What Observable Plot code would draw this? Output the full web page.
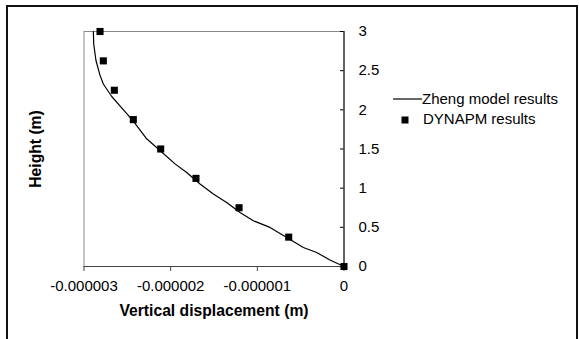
<!DOCTYPE html>
<html><head><meta charset="utf-8">
<script src="https://cdn.jsdelivr.net/npm/d3@7"></script>
<script src="https://cdn.jsdelivr.net/npm/@observablehq/plot@0.6"></script>
<style>
body{margin:0;background:#fff;font-family:"Liberation Sans",Arial,sans-serif;}
#wrap{position:relative;width:579px;height:339px;overflow:hidden;background:#fff;}
#border{position:absolute;left:6px;top:5px;width:568px;height:400px;border:2px solid #111;}
#chart{position:absolute;left:0;top:0;}
.lg{position:absolute;font-size:15px;line-height:17px;color:#000;white-space:nowrap;}
#ytitle{position:absolute;left:35.5px;top:148.5px;transform:translate(-50%,-50%) rotate(-90deg);font-weight:bold;font-size:15.7px;line-height:18px;white-space:nowrap;color:#000;}
</style></head><body>
<div id="wrap"><div id="border"></div><div id="chart"></div><div id="legend"></div><div id="ytitle"></div></div>
<script>
// DYNAPM results (squares)
const dynapmHeight = [0, 0.375, 0.75, 1.125, 1.5, 1.875, 2.25, 2.625, 3.0];
const dynapmDisp = [0, -0.638e-6, -1.211e-6, -1.708e-6, -2.115e-6, -2.431e-6, -2.650e-6, -2.777e-6, -2.815e-6];
// Zheng model results (line)
const modelHeight = [0, 0.082, 0.179, 0.243, 0.371, 0.499, 0.584, 0.69, 0.818, 0.926, 1.054, 1.20, 1.31, 1.48, 1.63, 1.855, 2.025, 2.17, 2.33, 2.44, 2.63, 2.84, 3.0];
const modelDisp = [0, -0.162e-6, -0.315e-6, -0.469e-6, -0.661e-6, -0.854e-6, -1.046e-6, -1.2e-6, -1.354e-6, -1.508e-6, -1.661e-6, -1.815e-6, -1.95e-6, -2.123e-6, -2.277e-6, -2.431e-6, -2.565e-6, -2.68e-6, -2.777e-6, -2.815e-6, -2.862e-6, -2.888e-6, -2.892e-6];
const xTicks = [-3e-6, -2e-6, -1e-6, 0];
const yTicks = [0, 0.5, 1, 1.5, 2, 2.5, 3];
const seriesNames = ["Zheng model results", "DYNAPM results"];
const xTitle = "Vertical displacement (m)";
const yTitle = "Height (m)";

const dynapm = dynapmHeight.map((h, i) => ({h, d: dynapmDisp[i]}));
const model = modelHeight.map((h, i) => ({h, d: modelDisp[i]}));

const W = 579, H = 339, mL = 83.5, mR = 235.5, mT = 31, mB = 73;
const plotW = W - mL - mR;

const chart = Plot.plot({
  width: W, height: H,
  marginLeft: mL, marginRight: mR, marginTop: mT, marginBottom: mB,
  style: {fontFamily: '"Liberation Sans", Arial, sans-serif', fontSize: "15px", background: "transparent", overflow: "visible", color: "#000"},
  x: {domain: [-3e-6, 0]},
  y: {domain: [0, 3]},
  marks: [
    Plot.frame({stroke: "#888"}),
    Plot.ruleY([0], {stroke: "#444"}),
    Plot.ruleX([0], {stroke: "#000"}),
    Plot.axisX({ticks: xTicks, tickSize: 5, tickPadding: 9, tickFormat: d => d === 0 ? "0" : d.toFixed(6), label: null, stroke: "#444", fontSize: 15}),
    Plot.axisY({anchor: "right", ticks: yTicks, tickSize: 0, tickPadding: 14.5, tickFormat: d => String(d), label: null, fontSize: 15}),
    Plot.ruleY(yTicks, {y: d => d, insetLeft: plotW - 3.5, stroke: "#000"}),
    Plot.line(model, {x: "d", y: "h", stroke: "#000", strokeWidth: 1.2}),
    Plot.dot(dynapm, {x: "d", y: "h", symbol: "square", r: 4, fill: "#000", stroke: null}),
    Plot.text([xTitle], {frameAnchor: "bottom", dy: 49, fontWeight: "bold", fontSize: 15.7, fill: "#000"})
  ]
});
document.getElementById("chart").appendChild(chart);
document.getElementById("ytitle").textContent = yTitle;

const lg = document.getElementById("legend");
lg.innerHTML = `
<svg class="lg" style="left:392px;top:92px" width="30" height="14"><line x1="1" y1="7" x2="30" y2="7" stroke="#000" stroke-width="1.2"/></svg>
<span class="lg" style="left:422px;top:89.5px">${seriesNames[0]}</span>
<svg class="lg" style="left:401px;top:116px" width="8" height="8"><rect x="0.5" y="0.5" width="7" height="7" fill="#000"/></svg>
<span class="lg" style="left:423px;top:110px">${seriesNames[1]}</span>`;
</script>
</body></html>
